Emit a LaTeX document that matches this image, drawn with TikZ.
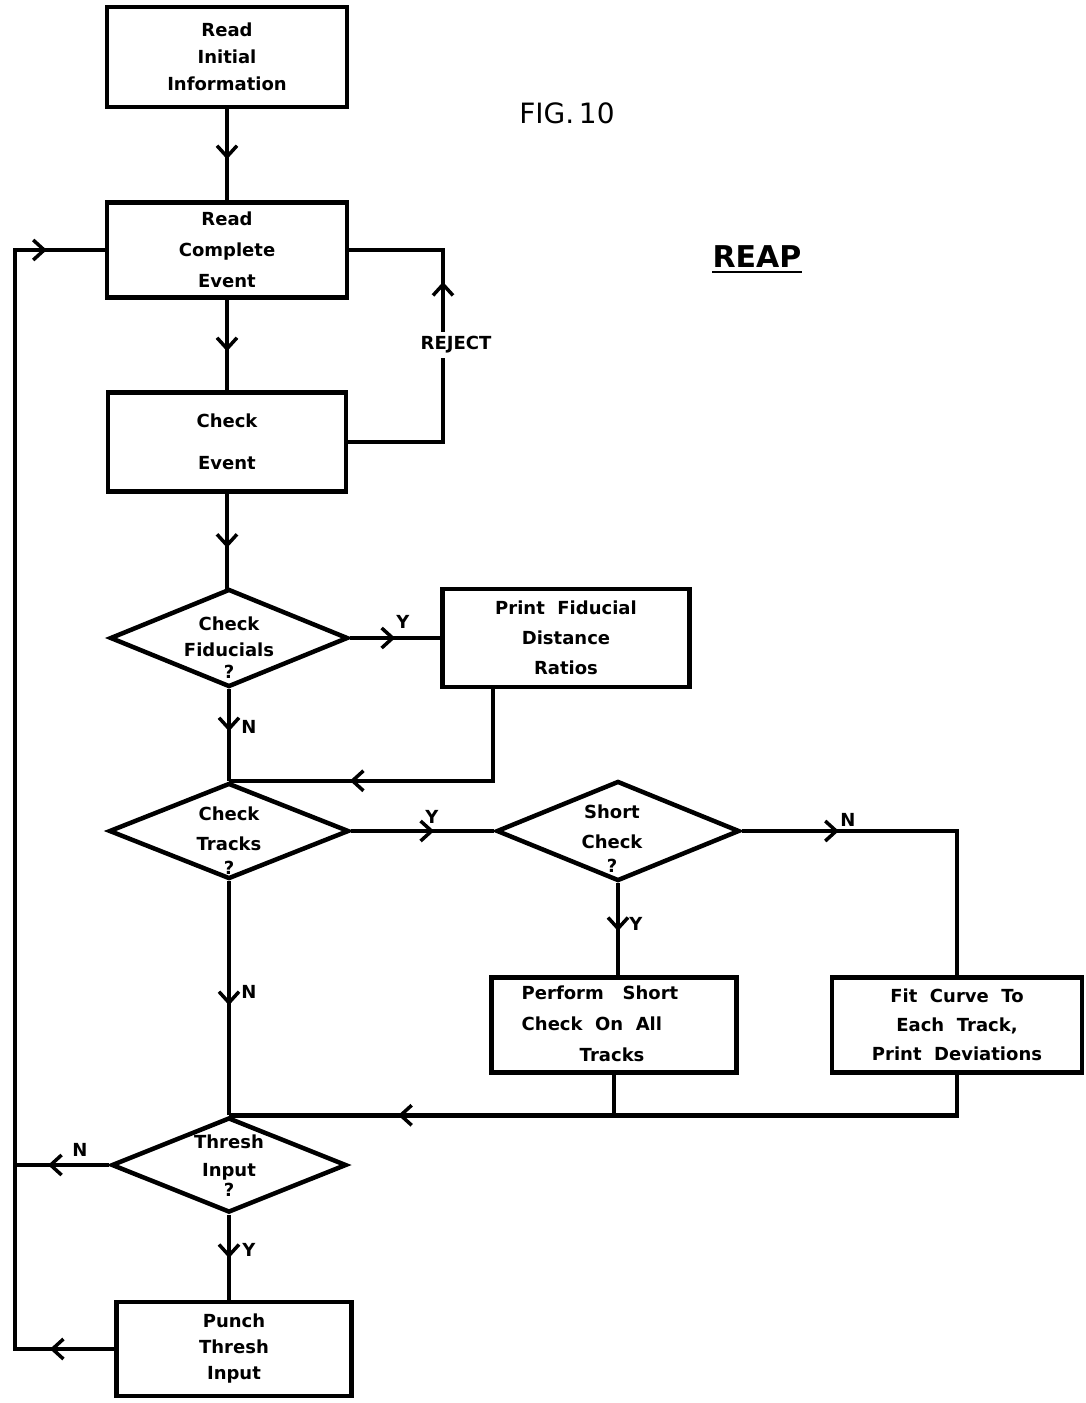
\documentclass[tikz,border=0pt]{standalone}
\usepackage{fontspec}
\setmainfont{DejaVu Sans}
\usetikzlibrary{shapes.geometric,arrows.meta,decorations.markings,calc}
\tikzset{
  box/.style={draw,line width=4.5pt,rectangle,inner sep=0pt,align=center,font=\bfseries\fontsize{18}{30}\selectfont},
  dia/.style={draw,line width=4.5pt,diamond,aspect=2.4,inner sep=0pt},
  dtext/.style={align=center,inner sep=0pt,font=\bfseries\fontsize{18}{26}\selectfont},
  conn/.style={line width=4.5pt,line join=miter},
  flowbarb/.tip={Straight Barb[length=11pt,width=20pt,line width=3.5pt]},
  midarrow/.style={postaction={decorate,decoration={markings,mark=at position #1 with {\arrow{flowbarb}}}}},
  twoarrows/.style 2 args={postaction={decorate,decoration={markings,
      mark=at position #1 with {\arrow{flowbarb}},
      mark=at position #2 with {\arrow{flowbarb}}}}},
  lab/.style={font=\bfseries\fontsize{18}{20}\selectfont,inner sep=0pt},
}
\begin{document}
\begin{tikzpicture}[x=1pt,y=-1pt]
\useasboundingbox (0,0) rectangle (1086,1403);

% boxes
\node[box,minimum width=240pt,minimum height=100pt,font=\bfseries\fontsize{18}{27}\selectfont] (b1) at (227,57) {Read\\Initial\\Information};
\node[box,minimum width=240pt,minimum height=95pt,font=\bfseries\fontsize{18}{31}\selectfont] (b2) at (227,250) {Read\\Complete\\Event};
\node[box,minimum width=238pt,minimum height=99pt,font=\bfseries\fontsize{18}{42}\selectfont] (b3) at (227,442) {Check\\Event};
\node[box,minimum width=247pt,minimum height=98pt] (pr) at (566,638) {Print\ \ Fiducial\\Distance\\Ratios};
\node[box,minimum width=245pt,minimum height=95pt] (pf) at (614,1025) {};
\node[lab,align=left,font=\bfseries\fontsize{18}{31}\selectfont] (pft) at (600,1024) {Perform\ \ \ Short\\Check\ \ On\ \ All\\\hspace{58pt}Tracks};
\node[box,minimum width=250pt,minimum height=95pt,font=\bfseries\fontsize{18}{29}\selectfont] (fc) at (957,1025) {Fit\ \ Curve\ \ To\\Each\ \ Track,\\Print\ \ Deviations};
\node[box,minimum width=235pt,minimum height=94pt,font=\bfseries\fontsize{18}{26}\selectfont] (pu) at (234,1349) {Punch\\Thresh\\Input};

% diamonds
\node[dia,minimum width=238pt,minimum height=98pt] (d1) at (229,638) {};
\node[dtext] (d1t) at (229,648) {Check\\Fiducials\\[-4pt]?};
\node[dia,minimum width=240pt,minimum height=96pt] (d2) at (229,831) {};
\node[dtext,font=\bfseries\fontsize{18}{30}\selectfont] (d2t) at (229,841) {Check\\Tracks\\[-6pt]?};
\node[dia,minimum width=243pt,minimum height=100pt] (d3) at (618,831) {};
\node[dtext,font=\bfseries\fontsize{18}{30}\selectfont] (d3t) at (612,839) {Short\\Check\\[-6pt]?};
\node[dia,minimum width=235pt,minimum height=95pt] (d4) at (229,1165) {};
\node[dtext,font=\bfseries\fontsize{18}{28}\selectfont] (d4t) at (229,1166) {Thresh\\Input\\[-8pt]?};

% titles
\node[inner sep=0pt,font=\fontsize{28}{30}\selectfont] (fig) at (567,113) {FIG.\,10};
\node[inner sep=0pt,font=\bfseries\fontsize{30}{32}\selectfont] (reap) at (757,257) {REAP};
\draw[line width=2.5pt] ([yshift=-4pt]reap.south west) -- ([yshift=-4pt]reap.south east);

% helper coordinates
\coordinate (rjb) at (443,442);
\coordinate (rjt) at (443,250);
\coordinate (lb) at (15,1349);
\coordinate (lt) at (15,250);
\coordinate (ln) at (15,1165);
\coordinate (prs) at ([xshift=-73pt]pr.south);

% connectors
\draw[conn,midarrow=0.55] (b1.south) -- (b2.north);
\draw[conn,midarrow=0.57] (b2.south) -- (b3.north);
\draw[conn,midarrow=0.67] (b3.east) -- (rjb) -- (rjt) -- (b2.east);
\node[lab,fill=white,inner sep=5pt] (rej) at (456,345) {REJECT};
\draw[conn,midarrow=0.57] (b3.south) -- (b3.south |- d1.north) -- (d1.north);
\draw[conn,midarrow=0.50] (d1.east) -- (pr.west);
\node[lab] (y1) at (403,622) {Y};
\draw[conn,midarrow=0.46] (d1.south) -- (d2.north);
\node[lab] (n1) at (249,727) {N};
\draw[conn,midarrow=0.66] (prs) |- (d2.north);
\draw[conn,midarrow=0.58] (d2.east) -- (d3.west);
\node[lab] (y2) at (432,817) {Y};
\draw[conn,midarrow=0.27] (d3.east) -| (fc.north);
\node[lab] (n2) at (848,820) {N};
\draw[conn,midarrow=0.52] (d3.south) -- (d3.south |- pf.north);
\node[lab] (y3) at (636,924) {Y};
\draw[conn] (pf.south) -- (pf.south |- d4.north);
\draw[conn,midarrow=0.78] (fc.south) -- (fc.south |- d4.north) -- (d4.north);
\draw[conn,midarrow=0.53] (d2.south) -- (d4.north);
\node[lab] (n3) at (249,992) {N};
\draw[conn,midarrow=0.65] (d4.west) -- (ln);
\node[lab] (n4) at (80,1150) {N};
\draw[conn,midarrow=0.51] (d4.south) -- (d4.south |- pu.north);
\node[lab] (y4) at (249,1250) {Y};
\draw[conn,twoarrows={0.05}{0.955}] (pu.west) -- (lb) -- (lt) -- (b2.west);
\end{tikzpicture}
\end{document}
